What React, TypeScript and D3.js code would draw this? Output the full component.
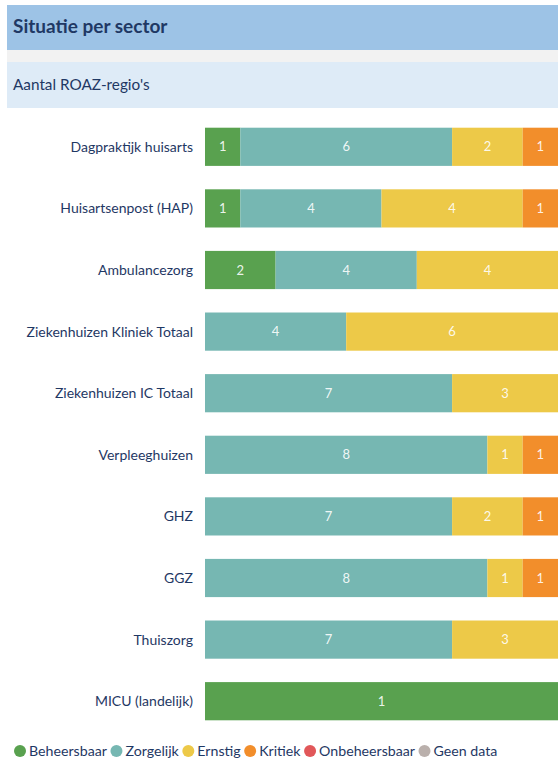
import React, { useEffect, useRef } from "react";
import * as d3 from "d3";

const sectors = [
  "Dagpraktijk huisarts",
  "Huisartsenpost (HAP)",
  "Ambulancezorg",
  "Ziekenhuizen Kliniek Totaal",
  "Ziekenhuizen IC Totaal",
  "Verpleeghuizen",
  "GHZ",
  "GGZ",
  "Thuiszorg",
  "MICU (landelijk)",
];
const statuses = ["Beheersbaar", "Zorgelijk", "Ernstig", "Kritiek", "Onbeheersbaar", "Geen data"];
const beheersbaar = [1, 1, 2, 0, 0, 0, 0, 0, 0, 1];
const zorgelijk = [6, 4, 4, 4, 7, 8, 7, 8, 7, 0];
const ernstig = [2, 4, 4, 6, 3, 1, 2, 1, 3, 0];
const kritiek = [1, 1, 0, 0, 0, 1, 1, 1, 0, 0];
const onbeheersbaar = [0, 0, 0, 0, 0, 0, 0, 0, 0, 0];
const geenData = [0, 0, 0, 0, 0, 0, 0, 0, 0, 0];
const colors = ["#59a14f", "#76b7b2", "#edc948", "#f28e2b", "#e15759", "#bab0ac"];

const W = 558;
const H = 760;
const FONT = "Lato, 'Open Sans', sans-serif";

export default function App() {
  const ref = useRef<SVGSVGElement>(null);
  useEffect(() => {
    const svg = d3.select(ref.current);
    svg.selectAll("*").remove();
    const series = [beheersbaar, zorgelijk, ernstig, kritiek, onbeheersbaar, geenData];
    const rows = sectors.map((s, i) => ({ sector: s, values: series.map((v) => v[i]) }));

    svg.append("rect").attr("width", W).attr("height", H).attr("fill", "#fff");
    // header
    svg.append("rect").attr("x", 7).attr("y", 5).attr("width", W - 7).attr("height", 45).attr("fill", "#9dc3e6");
    svg.append("rect").attr("x", 7).attr("y", 50).attr("width", W - 7).attr("height", 12).attr("fill", "#f2f2f2");
    svg.append("rect").attr("x", 7).attr("y", 62).attr("width", W - 7).attr("height", 46).attr("fill", "#deebf7");
    svg.append("text").attr("x", 13).attr("y", 33).attr("font-family", FONT).attr("font-weight", 700)
      .attr("font-size", 19).attr("fill", "#1f3864").text("Situatie per sector");
    svg.append("text").attr("x", 13).attr("y", 90).attr("font-family", FONT)
      .attr("font-size", 15.3).attr("fill", "#1f3864").text("Aantal ROAZ-regio's");

    const y = d3.scaleBand().domain(sectors).range([116, 732]).paddingInner(0.38).paddingOuter(0.19);
    const x0 = 205, x1 = 558;

    const g = svg.append("g");
    rows.forEach((r) => {
      const total = d3.sum(r.values);
      const x = d3.scaleLinear().domain([0, total]).range([x0, x1]);
      let acc = 0;
      const row = g.append("g");
      r.values.forEach((v, k) => {
        if (!v) { return; }
        const a = acc; acc += v;
        row.append("rect").attr("x", x(a)).attr("y", y(r.sector)!).attr("width", x(acc) - x(a))
          .attr("height", y.bandwidth()).attr("fill", colors[k]);
        row.append("text").attr("x", (x(a) + x(acc)) / 2).attr("y", y(r.sector)! + y.bandwidth() / 2)
          .attr("dy", "0.35em").attr("text-anchor", "middle").attr("font-family", FONT)
          .attr("font-size", 13).attr("fill", "#fff").attr("fill-opacity", 0.9).text(String(v));
      });
      row.append("text").attr("x", 193).attr("y", y(r.sector)! + y.bandwidth() / 2).attr("dy", "0.35em")
        .attr("text-anchor", "end").attr("font-family", FONT).attr("font-size", 14)
        .attr("fill", "#1f3864").text(r.sector);
    });

    // legend
    const lg = svg.append("g").attr("transform", "translate(0,751)");
    let lx = 14;
    statuses.forEach((s, k) => {
      lg.append("circle").attr("cx", lx + 6).attr("cy", 0).attr("r", 6).attr("fill", colors[k]);
      const t = lg.append("text").attr("x", lx + 15).attr("y", 0).attr("dy", "0.35em").attr("font-family", FONT)
        .attr("font-size", 14.2).attr("fill", "#1f3864").text(s);
      const w = (t.node() as SVGTextElement).getComputedTextLength();
      lx += 15 + w + 3.5;
    });
  }, []);
  return (
    <div style={{ position: "absolute", left: 0, top: 0 }}>
      <svg ref={ref} width={W} height={H} style={{ display: "block" }} />
    </div>
  );
}
